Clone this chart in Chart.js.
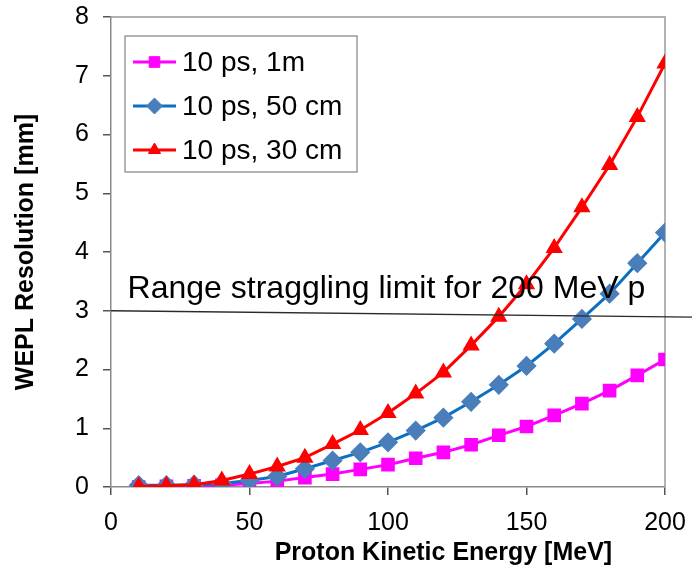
<!DOCTYPE html>
<html>
<head>
<meta charset="utf-8">
<script src="https://cdn.jsdelivr.net/npm/chart.js@4.4.0/dist/chart.umd.min.js"></script>
<style>
  html, body { margin: 0; padding: 0; background: #ffffff; }
  #wrap { position: relative; width: 692px; height: 570px; }
</style>
</head>
<body>
<div id="wrap"><canvas id="c" width="692" height="570"></canvas></div>
<script>
// Proton kinetic energy [MeV] at which each resolution was computed
const energies = [10, 20, 30, 40, 50, 60, 70, 80, 90, 100, 110, 120, 130, 140, 150, 160, 170, 180, 190, 200];

// WEPL resolution [mm] for 10 ps timing at three detector separations
const res1m   = [0.00, 0.01, 0.02, 0.03, 0.06, 0.10, 0.16, 0.22, 0.30, 0.38, 0.49, 0.59, 0.72, 0.88, 1.03, 1.22, 1.42, 1.64, 1.90, 2.17];
const res50cm = [0.03, 0.03, 0.04, 0.06, 0.11, 0.18, 0.31, 0.45, 0.59, 0.76, 0.96, 1.18, 1.45, 1.74, 2.06, 2.44, 2.86, 3.29, 3.81, 4.33];
const res30cm = [0.01, 0.02, 0.04, 0.11, 0.22, 0.35, 0.50, 0.73, 0.97, 1.26, 1.59, 1.95, 2.41, 2.90, 3.45, 4.07, 4.76, 5.48, 6.30, 7.21];

const seriesLabels = ['10 ps, 1m', '10 ps, 50 cm', '10 ps, 30 cm'];

// Range straggling reference line (hand-drawn across the plot, slightly sloped)
const limitLine = [{ x: 0, y: 3.0 }, { x: 210, y: 2.89 }];
const limitText = 'Range straggling limit for 200 MeV p';

const xTitle = 'Proton Kinetic Energy [MeV]';
const yTitle = 'WEPL Resolution [mm]';
const xRange = [0, 200];
const yRange = [0, 8];
const xStep = 50;
const yStep = 1;

const FONT = "'Liberation Sans', Arial, Helvetica, sans-serif";

function pts(ys) {
  return energies.map((e, i) => ({ x: e, y: ys[i] }));
}

const datasets = [
  {
    label: seriesLabels[0],
    data: pts(res1m),
    borderColor: '#ff00ff',
    backgroundColor: '#ff00ff',
    pointBackgroundColor: '#ff00ff',
    pointBorderColor: '#ff00ff',
    pointStyle: 'rect',
    pointRadius: 7.5,
    borderWidth: 3,
    order: 3
  },
  {
    label: seriesLabels[1],
    data: pts(res50cm),
    borderColor: '#0a70c4',
    backgroundColor: '#4a7ebb',
    pointBackgroundColor: '#4a7ebb',
    pointBorderColor: '#4a7ebb',
    pointStyle: 'rectRot',
    pointRadius: 8,
    borderWidth: 3,
    order: 2
  },
  {
    label: seriesLabels[2],
    data: pts(res30cm),
    borderColor: '#ff0000',
    backgroundColor: '#ff0000',
    pointBackgroundColor: '#ff0000',
    pointBorderColor: '#ff0000',
    pointStyle: 'triangle',
    pointRadius: 7,
    borderWidth: 3,
    order: 1
  },
  {
    label: 'limit',
    data: limitLine,
    borderColor: '#2a2a2a',
    borderWidth: 1.3,
    pointRadius: 0,
    clip: false,
    order: 0
  }
];

// Gray frame on top and right of the plot area
const framePlugin = {
  id: 'frame',
  beforeDatasetsDraw(chart) {
    const { ctx, chartArea: a } = chart;
    ctx.save();
    ctx.strokeStyle = '#9a9a9a';
    ctx.lineWidth = 1.5;
    ctx.beginPath();
    ctx.moveTo(a.left, a.top);
    ctx.lineTo(a.right, a.top);
    ctx.lineTo(a.right, a.bottom);
    ctx.stroke();
    ctx.restore();
  }
};

// Annotation text, x-axis title and boxed legend
const overlayPlugin = {
  id: 'overlay',
  afterDatasetsDraw(chart) {
    const { ctx, chartArea: a, scales } = chart;
    ctx.save();

    // straggling-limit annotation
    ctx.fillStyle = '#000';
    ctx.font = '32px ' + FONT;
    ctx.textAlign = 'left';
    ctx.textBaseline = 'alphabetic';
    ctx.fillText(limitText, scales.x.getPixelForValue(6), scales.y.getPixelForValue(3) - 13);

    // x-axis title
    ctx.font = 'bold 25px ' + FONT;
    ctx.textAlign = 'center';
    ctx.textBaseline = 'middle';
    ctx.fillText(xTitle, a.left + a.width * 0.6, a.bottom + 66);

    // legend
    const bx = a.left + 14, by = a.top + 19, bw = 232, bh = 136;
    ctx.fillStyle = '#fff';
    ctx.fillRect(bx, by, bw, bh);
    ctx.strokeStyle = '#8c8c8c';
    ctx.lineWidth = 1.3;
    ctx.strokeRect(bx, by, bw, bh);
    const helpers = Chart.helpers;
    for (let i = 0; i < 3; i++) {
      const ds = chart.data.datasets[i];
      const ry = by + 26 + i * 44;
      ctx.strokeStyle = ds.borderColor;
      ctx.lineWidth = 3;
      ctx.beginPath();
      ctx.moveTo(bx + 8, ry);
      ctx.lineTo(bx + 51, ry);
      ctx.stroke();
      ctx.fillStyle = ds.pointBackgroundColor;
      ctx.strokeStyle = ds.pointBorderColor;
      ctx.lineWidth = 1;
      helpers.drawPoint(ctx, { pointStyle: ds.pointStyle, radius: ds.pointRadius, rotation: 0, borderWidth: 1 }, bx + 29.5, ry);
      ctx.fillStyle = '#000';
      ctx.font = '28px ' + FONT;
      ctx.textAlign = 'left';
      ctx.textBaseline = 'middle';
      ctx.fillText(ds.label, bx + 57, ry + 1);
    }
    ctx.restore();
  }
};

new Chart(document.getElementById('c'), {
  type: 'line',
  data: { datasets },
  plugins: [framePlugin, overlayPlugin],
  options: {
    responsive: false,
    animation: false,
    devicePixelRatio: 1,
    layout: { padding: { left: 0, right: 27, top: 17, bottom: 0 } },
    plugins: { legend: { display: false }, tooltip: { enabled: false } },
    elements: { line: { tension: 0 } },
    scales: {
      x: {
        type: 'linear',
        min: xRange[0], max: xRange[1],
        afterFit(s) { s.height = 83; s.paddingLeft = 0; s.paddingRight = 0; },
        border: { color: '#8a8a8a', width: 1.5 },
        grid: { drawOnChartArea: false, drawTicks: true, tickLength: 8, color: '#555', lineWidth: 1.5 },
        ticks: { stepSize: xStep, color: '#000', padding: 13, font: { family: FONT, size: 25 }, maxRotation: 0 }
      },
      y: {
        type: 'linear',
        min: yRange[0], max: yRange[1],
        afterFit(s) { s.width = 111; s.paddingTop = 0; s.paddingBottom = 0; },
        border: { color: '#8a8a8a', width: 1.5 },
        grid: { drawOnChartArea: false, drawTicks: true, tickLength: 8, color: '#555', lineWidth: 1.5 },
        ticks: { stepSize: yStep, color: '#000', padding: 14, font: { family: FONT, size: 25 } },
        title: { display: true, text: yTitle, color: '#000', padding: { top: 11, bottom: 0 }, font: { family: FONT, size: 25, weight: 'bold' } }
      }
    }
  }
});
</script>
</body>
</html>
